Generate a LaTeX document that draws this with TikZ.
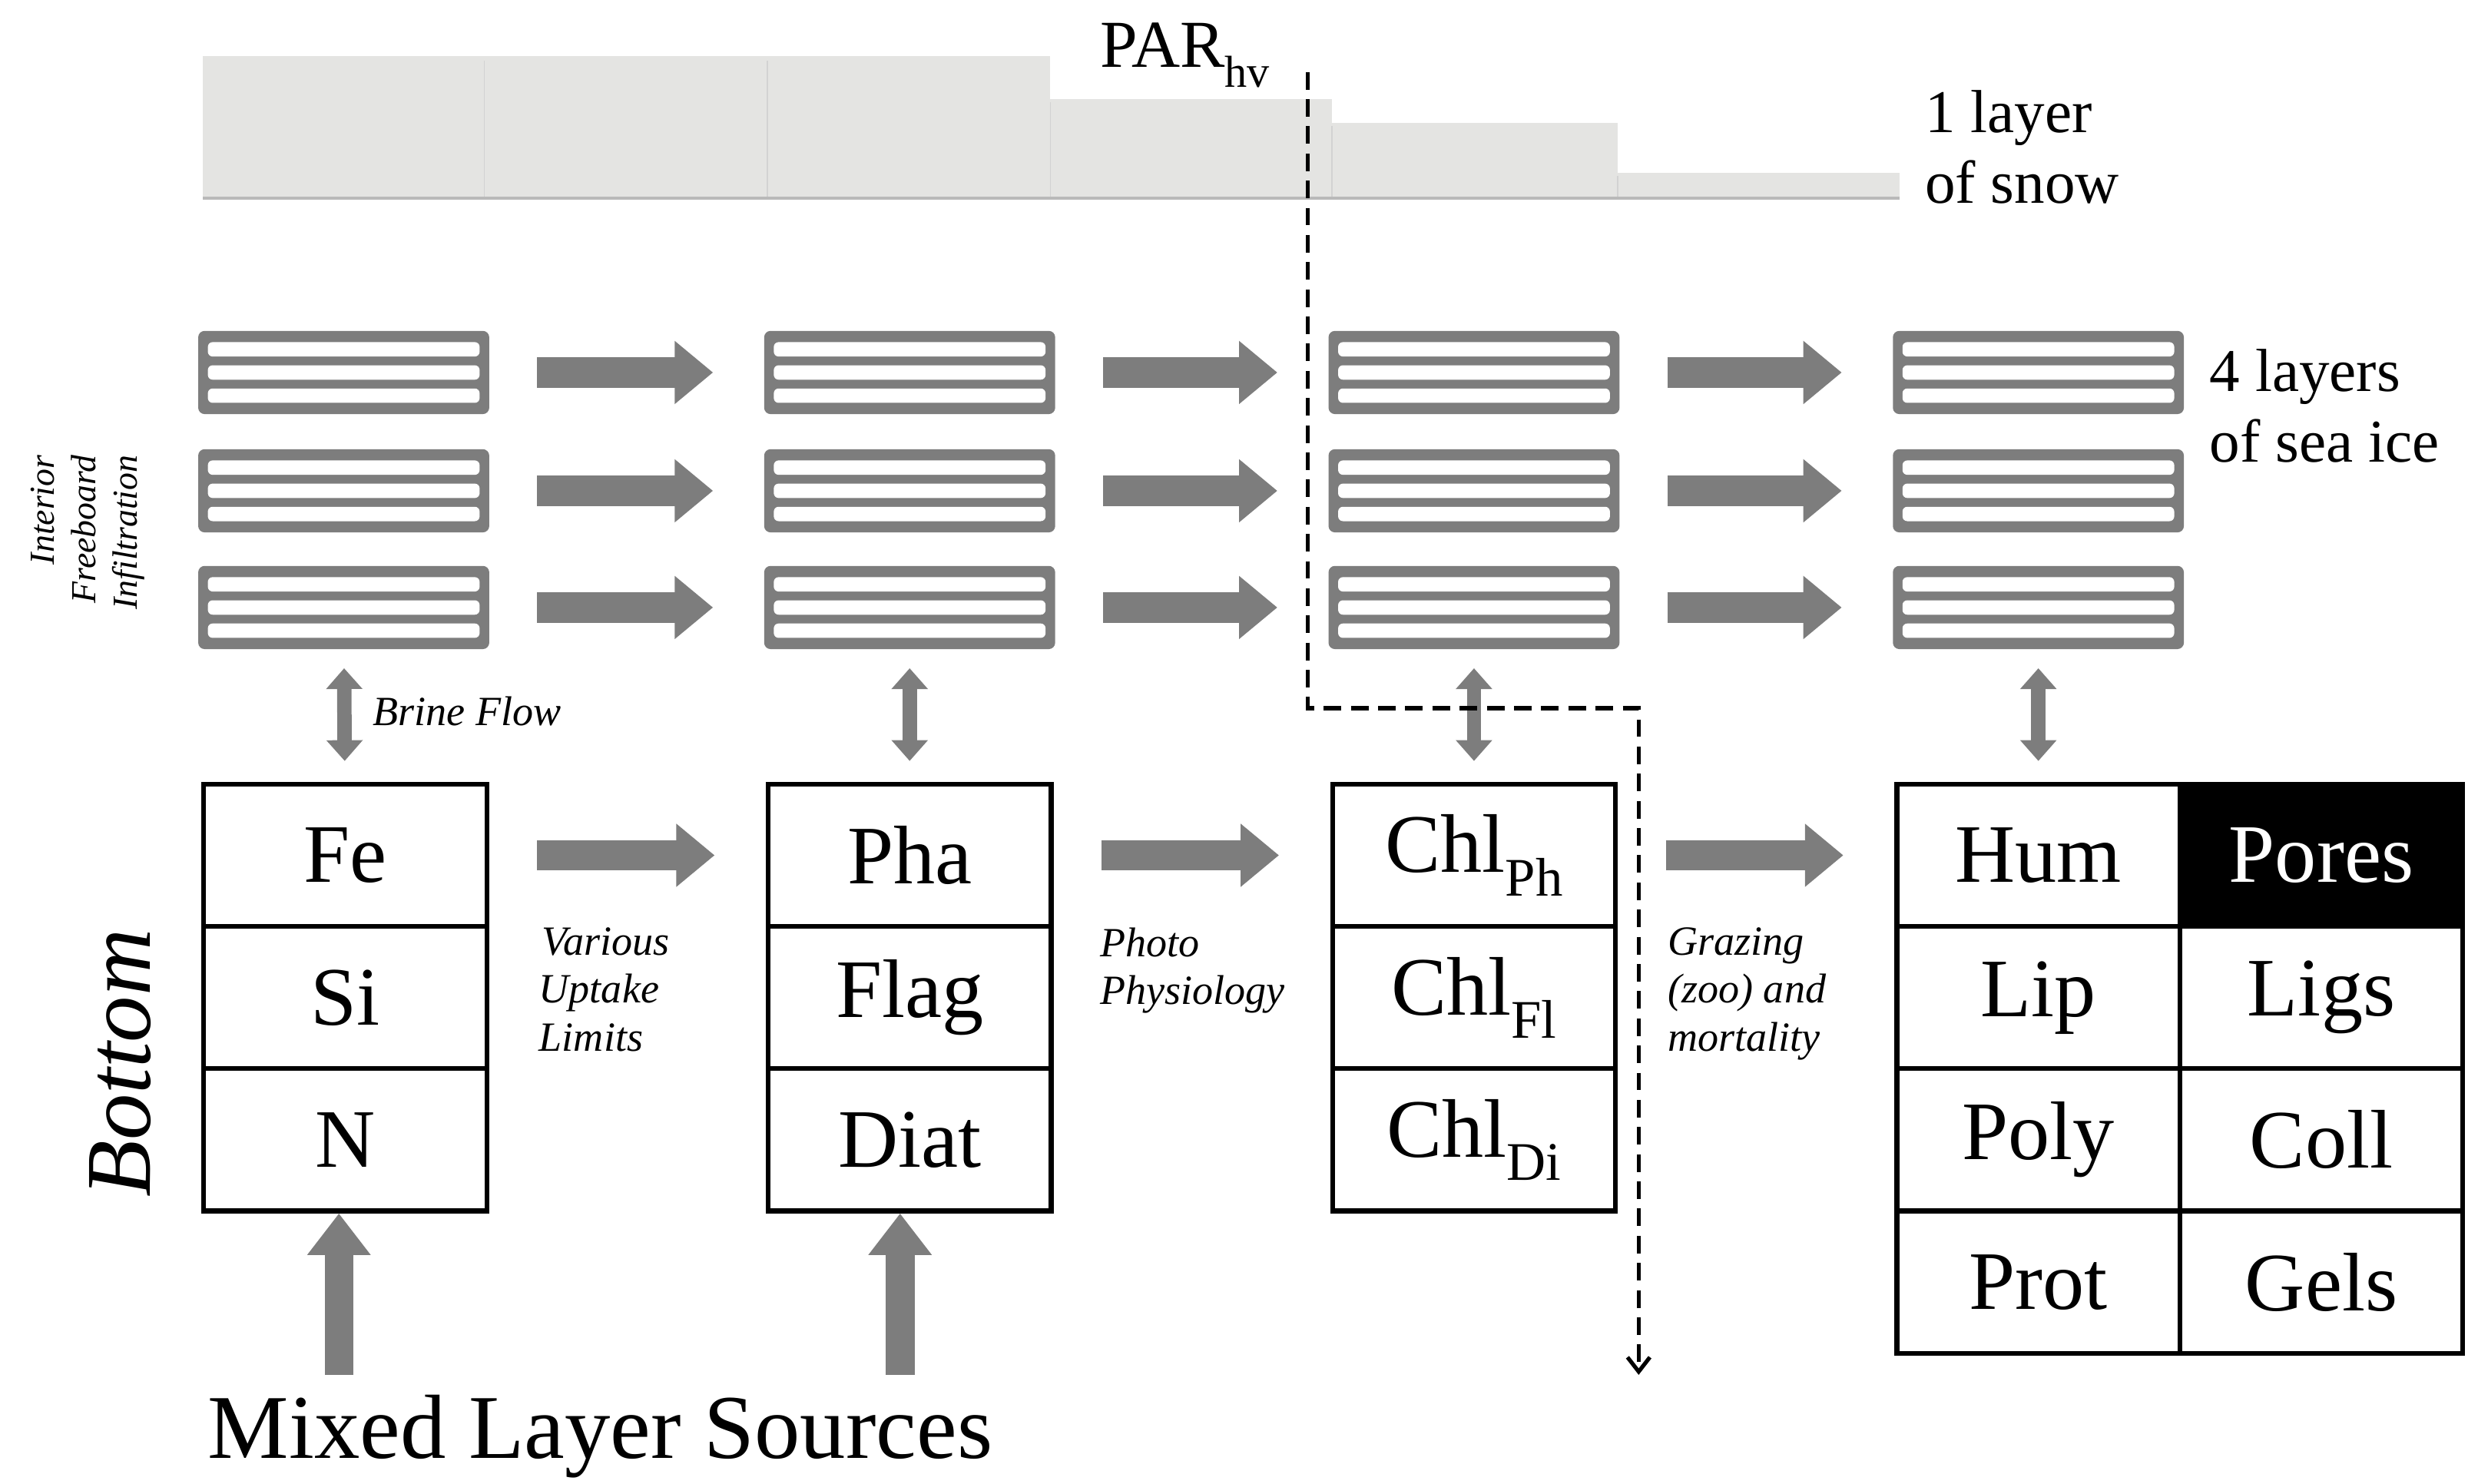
\documentclass[tikz,border=0pt]{standalone}
\usepackage{fontspec}
\setmainfont{Liberation Serif}
\usetikzlibrary{arrows.meta,calc}
\definecolor{ag}{RGB}{125,125,125}
\definecolor{snow}{RGB}{228,228,226}
\begin{document}
\begin{tikzpicture}[x=1pt,y=-1pt,
  ice/.style={draw=ag,line width=2pt,fill=ag,rounded corners=3pt,minimum width=180pt,minimum height=50pt,inner sep=0pt,
    path picture={\foreach \dy in {-14.5,0,14.5}{\fill[white] ($(path picture bounding box.center)+(-85,\dy-4.5)$) rectangle ($(path picture bounding box.center)+(85,\dy+4.5)$);}}},
  barrow/.style={draw=ag,line width=19pt,-{Triangle[length=24pt,width=38pt]},shorten <=30pt,shorten >=32pt},
  vup/.style={draw=ag,line width=18pt,-{Triangle[length=26pt,width=38pt]}},
  dbl/.style={draw=ag,line width=9pt,{Triangle[length=13pt,width=22pt]}-{Triangle[length=13pt,width=22pt]},shorten <=12pt,shorten >=13pt},
  cell/.style={draw=black,line width=3pt,minimum width=177pt,minimum height=89pt,inner sep=0pt,font=\fontsize{52}{60}\selectfont},
  it/.style={font=\fontsize{26}{30}\selectfont\itshape,align=left,inner sep=0pt},
  big/.style={font=\fontsize{38}{44}\selectfont,align=left,inner sep=0pt}]
\useasboundingbox (0,0) rectangle (1550,928);
% snow
\foreach \a/\b/\t in {127/303/35,303/480/35,480/657/35,657/833/62,833/1012/77,1012/1188/108}
  \fill[snow] (\a,\t) rectangle (\b,125);
\foreach \a/\t in {303/38,480/38,657/64,833/79,1012/110} \draw[gray!35,line width=0.8pt] (\a,\t) -- (\a,124);
\draw[gray!55,line width=2pt] (127,124) -- (1188,124);
\node[font=\fontsize{42}{48}\selectfont,anchor=base west,inner sep=0pt] (par) at (688,42) {PAR\raisebox{-0.3em}{\fontsize{28}{30}\selectfont hv}};
\node[big,anchor=west] (snowlbl) at (1204,92) {1 layer\\of snow};
\node[big,anchor=west] (icelbl) at (1382,254) {4 layers\\of sea ice};
% ice blocks
\foreach \c/\x in {1/215,2/569,3/922,4/1275}
  \foreach \r/\y in {1/233,2/307,3/380}
    \node[ice] (i\c\r) at (\x,\y) {};
\foreach \r in {1,2,3}{
  \draw[barrow] (i1\r) -- (i2\r);
  \draw[barrow] (i2\r) -- (i3\r);
  \draw[barrow] (i3\r) -- (i4\r);}
% bottom boxes
\node[cell] (fe) at (216,535) {Fe};
\node[cell] (si) at (216,624) {Si};
\node[cell] (n) at (216,713) {N};
\node[cell] (pha) at (569,535) {Pha};
\node[cell] (flag) at (569,624) {Flag};
\node[cell] (diat) at (569,713) {Diat};
\newcommand{\chlsub}[1]{Chl\raisebox{-0.28em}{\fontsize{34}{36}\selectfont #1}}
\node[cell] (chp) at (922,535) {\chlsub{Ph}};
\node[cell] (chf) at (922,624) {\chlsub{Fl}};
\node[cell] (chd) at (922,713) {\chlsub{Di}};
\node[cell] (hum) at (1275,535) {Hum};
\node[cell,fill=black,text=white] (pores) at (1452,535) {Pores};
\node[cell] (lip) at (1275,624) {Lip};
\node[cell] (ligs) at (1452,624) {Ligs};
\node[cell] (poly) at (1275,713) {Poly};
\node[cell] (coll) at (1452,713) {Coll};
\node[cell] (prot) at (1275,802) {Prot};
\node[cell] (gels) at (1452,802) {Gels};
\draw[barrow] (fe) -- (pha);
\draw[barrow] (pha) -- (chp);
\draw[barrow] (chp) -- (hum);
% vertical double arrows
\draw[dbl] (i13) -- (fe);
\draw[dbl] (i23) -- (pha);
\draw[dbl] (i33) -- (chp);
\draw[dbl] (i43) -- (hum);
% sources
\node[font=\fontsize{57}{62}\selectfont,anchor=base west,inner sep=0pt] (mls) at (130,912) {Mixed Layer Sources};
\coordinate (s1) at (212,860);
\coordinate (s2) at (563,860);
\draw[vup] (s1) -- (s1 |- n.south);
\draw[vup] (s2) -- (s2 |- diat.south);
% labels
\node[it,anchor=west] (brine) at (233,445) {Brine Flow};
\node[it,anchor=north west,align=left] (upt) at (337,580) {\hspace{2pt}Various\\Uptake\\Limits};
\node[it,anchor=north west] (photo) at (688,580) {Photo\\Physiology};
\node[it,anchor=north west] (graz) at (1043,580) {Grazing\\(zoo) and\\mortality};
\node[font=\fontsize{58}{60}\selectfont\itshape,rotate=90,inner sep=0pt] (bot) at (75,665) {Bottom};
\node[font=\fontsize{22}{26}\selectfont\itshape,rotate=90,align=right,inner sep=0pt] (ifi) at (55,333) {Interior\\Freeboard\\Infiltration};
% PAR dashed path
\coordinate (d0) at (818,45);
\coordinate (d1) at (818,443);
\coordinate (d2) at (1025,443);
\coordinate (d3) at (1025,860);
\draw[black,line width=2.5pt,dash pattern=on 11pt off 6pt,-{Straight Barb[length=9pt,width=14pt]}] (d0) -- (d1) -- (d2) -- (d3);
\end{tikzpicture}
\end{document}
